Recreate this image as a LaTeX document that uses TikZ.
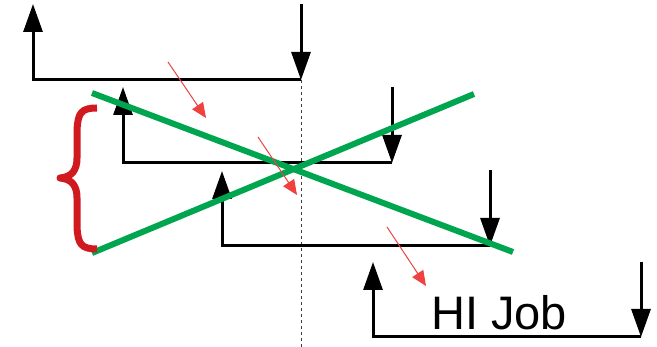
\documentclass[tikz,border=0pt]{standalone}
\usepackage{fontspec}
\setmainfont{Liberation Sans}
\usetikzlibrary{arrows.meta}
\definecolor{xgreen}{RGB}{0,165,80}
\definecolor{xbrace}{RGB}{208,26,32}
\definecolor{xred}{RGB}{240,64,64}
\tikzset{
  job/.style={line width=3pt, black},
  jobup/.style={job, {Triangle[length=28pt,width=19pt]}-},
  jobdown/.style={job, -{Triangle[length=28pt,width=19pt]}},
  cross/.style={line width=6pt, xgreen},
  bracepath/.style={line width=7pt, xbrace, line join=round},
  redarrow/.style={line width=1pt, xred, -{Triangle[length=15pt,width=13pt]}},
  guide/.style={line width=1pt, black!75, dash pattern=on 3pt off 3pt}
}
\begin{document}
\begin{tikzpicture}[x=1pt,y=-1pt]
\useasboundingbox (0,0) rectangle (657,347);
% job 1
\coordinate (t1) at (33,4);
\coordinate (l1) at (33,80);
\coordinate (r1) at (301,80);
\coordinate (s1) at (301,4);
% job 2
\coordinate (t2) at (123,87);
\coordinate (l2) at (123,163);
\coordinate (r2) at (392,163);
\coordinate (s2) at (392,87);
% job 3
\coordinate (t3) at (222,171);
\coordinate (l3) at (222,246);
\coordinate (r3) at (490,246);
\coordinate (s3) at (490,170);
% job 4
\coordinate (t4) at (373,262);
\coordinate (l4) at (373,337);
\coordinate (r4) at (641,337);
\coordinate (s4) at (641,262);
% guide
\coordinate (g1) at (301,80);
\coordinate (g2) at (301,347);
\draw[guide] (g1) -- (g2);
% jobs
\draw[jobup] (t1) -- (l1) -- (r1);
\draw[jobdown] (s1) -- (r1);
\draw[jobup] (t2) -- (l2) -- (r2);
\draw[jobdown] (s2) -- (r2);
\draw[jobup] (t3) -- (l3) -- (r3);
\draw[jobdown] (s3) -- (r3);
\draw[jobup] (t4) -- (l4) -- (r4);
\draw[jobdown] (s4) -- (r4);
% green cross
\coordinate (ca) at (92,93);
\coordinate (cb) at (513,252);
\coordinate (cc) at (92,253);
\coordinate (cd) at (474,94);
\draw[cross] (ca) -- (cb);
\draw[cross] (cc) -- (cd);
% brace
\coordinate (bt) at (97,108);
\coordinate (bm) at (60,178);
\coordinate (bb) at (97,249);
\draw[bracepath] (bt) .. controls (81,108) and (78,113) .. (77,130) -- (77,158)
  .. controls (77,170) and (72,177) .. (bm)
  .. controls (72,179) and (77,186) .. (77,198) -- (77,227)
  .. controls (78,244) and (81,249) .. (bb);
% red arrows
\coordinate (a1) at (168,62);
\coordinate (b1) at (206,118);
\coordinate (a2) at (258,137);
\coordinate (b2) at (297,195);
\coordinate (a3) at (387,227);
\coordinate (b3) at (426,286);
\draw[redarrow] (a1) -- (b1);
\draw[redarrow] (a2) -- (b2);
\draw[redarrow] (a3) -- (b3);
% label
\node[anchor=base west, inner sep=0pt, font=\fontsize{47}{52}\selectfont] (hi) at (431,330) {HI Job};
\end{tikzpicture}
\end{document}
